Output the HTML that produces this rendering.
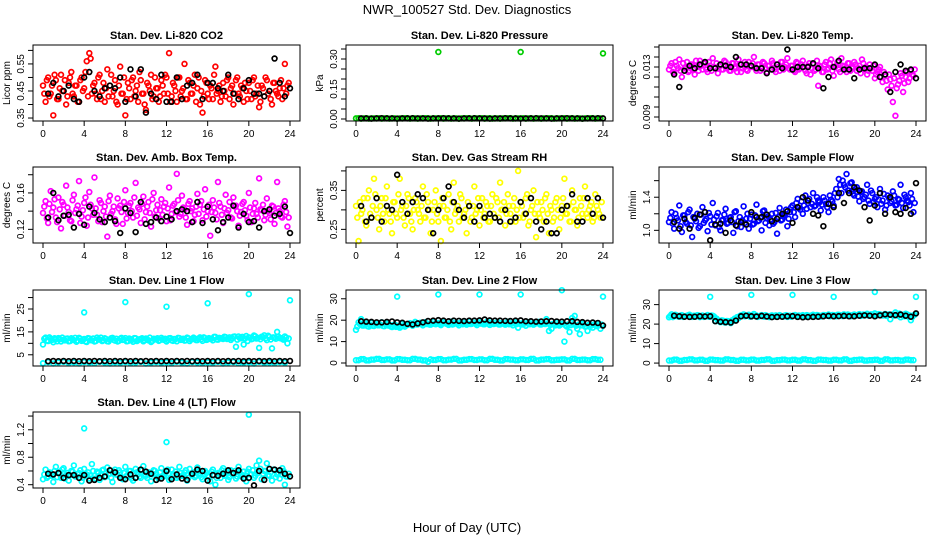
<!DOCTYPE html>
<html><head><meta charset="utf-8"><style>
html,body{margin:0;padding:0;background:#fff;}
svg{display:block;font-family:"Liberation Sans",Arial,sans-serif;}
</style></head><body>
<svg id="chart" width="936" height="540" viewBox="0 0 936 540" xmlns="http://www.w3.org/2000/svg">
<text x="467" y="14" text-anchor="middle" font-size="13">NWR_100527  Std. Dev. Diagnostics</text>
<text x="467" y="532" text-anchor="middle" font-size="13">Hour of Day (UTC)</text>
<g id="panels"></g>
</svg>
<script>
const xTicks=[0,4,8,12,16,20,24];
const co2=[0.47,0.41,0.50,0.44,0.36,0.49,0.42,0.51,0.45,0.40,0.48,0.52,0.43,0.47,0.41,0.50,0.46,0.56,0.59,0.44,0.48,0.42,0.51,0.45,0.41,0.53,0.47,0.43,0.49,0.40,0.54,0.44,0.36,0.48,0.42,0.50,0.45,0.41,0.49,0.44,0.38,0.47,0.51,0.43,0.46,0.41,0.49,0.44,0.50,0.59,0.43,0.47,0.41,0.50,0.45,0.55,0.42,0.48,0.44,0.51,0.46,0.40,0.37,0.49,0.44,0.47,0.42,0.54,0.45,0.41,0.48,0.43,0.50,0.46,0.40,0.49,0.44,0.47,0.41,0.45,0.48,0.42,0.50,0.44,0.39,0.47,0.43,0.49,0.45,0.40,0.48,0.44,0.46,0.42,0.55,0.47];
const co2B=[0.44,0.49,0.43,0.47,0.51,0.42,0.46,0.45,0.49,0.43,0.50,0.44,0.47,0.41,0.49,0.45,0.52,0.43,0.57,0.47,0.44,0.50,0.42,0.48,0.46,0.43,0.51,0.45,0.41,0.47,0.44,0.50,0.42,0.46,0.49,0.43,0.47,0.52,0.44,0.40,0.48,0.45,0.42,0.50,0.46,0.43,0.47,0.51,0.44,0.41,0.48,0.45,0.50,0.43,0.46,0.42,0.49,0.44,0.47,0.41,0.50,0.45,0.43,0.48,0.42,0.46,0.51,0.44,0.47,0.43,0.45,0.49,0.42,0.47,0.44,0.50,0.43,0.46,0.48,0.42,0.45,0.49,0.43,0.47,0.41,0.46,0.50,0.44,0.42,0.48,0.45,0.43,0.49,0.46,0.44,0.48];
const co2Black=[0.44,0.48,0.43,0.45,0.47,0.42,0.41,0.50,0.52,0.45,0.43,0.46,0.47,0.46,0.50,0.41,0.53,0.43,0.53,0.37,0.44,0.42,0.51,0.41,0.41,0.50,0.42,0.47,0.48,0.51,0.42,0.48,0.48,0.46,0.45,0.51,0.44,0.42,0.46,0.49,0.44,0.44,0.43,0.45,0.57,0.48,0.43,0.46];
const press=[0.003,0.002,0.004,0.003,0.003,0.002,0.004,0.003,0.002,0.003,0.004,0.003,0.002,0.003,0.004,0.003,0.003,0.002,0.004,0.003,0.002,0.003,0.004,0.003,0.003,0.002,0.004,0.003,0.002,0.003,0.004,0.003,0.003,0.002,0.004,0.003,0.002,0.003,0.004,0.003,0.003,0.002,0.004,0.003,0.002,0.003,0.004,0.003];
const pressB=[0.004,0.003,0.002,0.003,0.004,0.003,0.002,0.003,0.003,0.004,0.002,0.003,0.003,0.004,0.002,0.003,0.004,0.003,0.002,0.003,0.003,0.004,0.002,0.003,0.004,0.003,0.002,0.003,0.003,0.004,0.002,0.003,0.004,0.003,0.002,0.003,0.003,0.004,0.002,0.003,0.004,0.003,0.002,0.003,0.003,0.004,0.002,0.003];
const pressBlack=[0.003,0.003,0.002,0.003,0.004,0.003,0.003,0.002,0.003,0.003,0.004,0.003,0.003,0.002,0.003,0.003,0.004,0.003,0.003,0.002,0.003,0.003,0.004,0.003,0.003,0.002,0.003,0.003,0.004,0.003,0.003,0.002,0.003,0.003,0.004,0.003,0.003,0.002,0.003,0.003,0.004,0.003,0.003,0.002,0.003,0.003,0.004,0.003];
const pressSpikeHours=[8,16,24];
const pressSpikeValues=[0.335,0.335,0.328];
const temp=[0.0128,0.0133,0.0125,0.0131,0.0136,0.0122,0.0129,0.0134,0.0127,0.0132,0.0124,0.0130,0.0135,0.0128,0.0133,0.0126,0.0131,0.0137,0.0129,0.0125,0.0132,0.0128,0.0134,0.0130,0.0127,0.0133,0.0129,0.0136,0.0126,0.0131,0.0128,0.0134,0.0130,0.0138,0.0127,0.0132,0.0129,0.0133,0.0126,0.0131,0.0135,0.0128,0.0132,0.0127,0.0134,0.0130,0.0137,0.0128,0.0131,0.0126,0.0133,0.0129,0.0135,0.0127,0.0131,0.0124,0.0132,0.0128,0.0115,0.0130,0.0126,0.0134,0.0129,0.0136,0.0123,0.0131,0.0128,0.0137,0.0130,0.0126,0.0133,0.0129,0.0134,0.0127,0.0131,0.0136,0.0128,0.0124,0.0132,0.0127,0.0121,0.0126,0.0130,0.0118,0.0124,0.0112,0.0120,0.0102,0.0091,0.0116,0.0125,0.0110,0.0122,0.0118,0.0127,0.0123];
const tempB=[0.0131,0.0126,0.0134,0.0129,0.0127,0.0133,0.0130,0.0126,0.0132,0.0128,0.0135,0.0127,0.0131,0.0133,0.0128,0.0134,0.0127,0.0130,0.0133,0.0131,0.0128,0.0135,0.0129,0.0127,0.0133,0.0130,0.0126,0.0132,0.0129,0.0134,0.0127,0.0131,0.0133,0.0129,0.0132,0.0127,0.0134,0.0129,0.0131,0.0128,0.0133,0.0126,0.0130,0.0134,0.0128,0.0132,0.0129,0.0131,0.0127,0.0134,0.0128,0.0132,0.0130,0.0125,0.0133,0.0129,0.0127,0.0135,0.0131,0.0126,0.0132,0.0128,0.0133,0.0127,0.0130,0.0134,0.0126,0.0131,0.0128,0.0133,0.0127,0.0130,0.0132,0.0129,0.0125,0.0133,0.0130,0.0127,0.0129,0.0131,0.0124,0.0128,0.0122,0.0126,0.0119,0.0124,0.0115,0.0121,0.0113,0.0119,0.0123,0.0117,0.0126,0.0121,0.0124,0.0128];
const tempBlack=[0.0124,0.0114,0.0127,0.0131,0.0129,0.0132,0.0134,0.0129,0.0129,0.0132,0.0131,0.0130,0.0138,0.0132,0.0132,0.0131,0.0129,0.0129,0.0125,0.0128,0.0132,0.0129,0.0144,0.0128,0.0130,0.0130,0.0130,0.0133,0.0129,0.0113,0.0122,0.0130,0.0135,0.0128,0.0128,0.0121,0.0128,0.0129,0.0129,0.0132,0.0122,0.0124,0.0110,0.0126,0.0132,0.0127,0.0128,0.0121];
const amb=[0.138,0.151,0.127,0.162,0.144,0.133,0.155,0.121,0.147,0.168,0.139,0.129,0.158,0.142,0.173,0.134,0.149,0.124,0.161,0.143,0.177,0.136,0.152,0.128,0.145,0.112,0.157,0.140,0.131,0.154,0.146,0.126,0.163,0.138,0.149,0.133,0.171,0.144,0.127,0.156,0.139,0.150,0.123,0.160,0.141,0.132,0.153,0.145,0.129,0.166,0.137,0.148,0.181,0.134,0.157,0.142,0.125,0.151,0.143,0.136,0.159,0.147,0.130,0.164,0.140,0.113,0.152,0.138,0.172,0.145,0.127,0.158,0.141,0.133,0.155,0.146,0.124,0.139,0.150,0.135,0.160,0.128,0.143,0.137,0.176,0.141,0.130,0.154,0.138,0.146,0.126,0.172,0.140,0.133,0.151,0.123];
const ambB=[0.145,0.132,0.148,0.139,0.153,0.128,0.142,0.150,0.135,0.144,0.130,0.152,0.138,0.146,0.127,0.141,0.155,0.133,0.147,0.136,0.143,0.129,0.149,0.140,0.134,0.151,0.137,0.145,0.126,0.143,0.139,0.150,0.132,0.146,0.140,0.155,0.135,0.142,0.148,0.131,0.145,0.138,0.153,0.134,0.147,0.141,0.136,0.149,0.143,0.130,0.146,0.139,0.152,0.137,0.144,0.133,0.148,0.140,0.129,0.145,0.137,0.151,0.142,0.134,0.147,0.139,0.144,0.131,0.149,0.136,0.143,0.138,0.150,0.132,0.145,0.140,0.135,0.148,0.141,0.130,0.144,0.137,0.149,0.133,0.142,0.147,0.136,0.140,0.131,0.145,0.138,0.143,0.134,0.147,0.139,0.133];
const ambBlack=[0.133,0.160,0.130,0.135,0.136,0.122,0.137,0.125,0.145,0.138,0.131,0.128,0.133,0.129,0.116,0.143,0.138,0.117,0.150,0.126,0.128,0.133,0.129,0.134,0.131,0.140,0.142,0.140,0.128,0.150,0.127,0.145,0.131,0.119,0.128,0.133,0.146,0.122,0.137,0.128,0.129,0.122,0.140,0.142,0.135,0.137,0.145,0.116];
const rh=[0.31,0.22,0.29,0.33,0.26,0.35,0.28,0.38,0.30,0.25,0.33,0.27,0.36,0.29,0.24,0.32,0.28,0.38,0.31,0.26,0.34,0.29,0.25,0.33,0.30,0.27,0.36,0.28,0.32,0.24,0.30,0.35,0.27,0.22,0.31,0.28,0.34,0.25,0.37,0.30,0.27,0.33,0.29,0.24,0.31,0.28,0.36,0.30,0.26,0.33,0.29,0.31,0.27,0.34,0.28,0.32,0.37,0.30,0.26,0.34,0.29,0.31,0.27,0.40,0.32,0.28,0.33,0.26,0.30,0.35,0.23,0.29,0.32,0.27,0.34,0.24,0.30,0.28,0.33,0.25,0.31,0.38,0.29,0.27,0.35,0.30,0.26,0.33,0.29,0.36,0.28,0.31,0.27,0.34,0.30,0.28];
const rhB=[0.28,0.32,0.30,0.27,0.33,0.29,0.31,0.34,0.28,0.31,0.29,0.33,0.30,0.27,0.32,0.29,0.34,0.30,0.28,0.31,0.33,0.27,0.30,0.32,0.29,0.31,0.28,0.34,0.30,0.27,0.32,0.29,0.31,0.33,0.28,0.30,0.27,0.32,0.29,0.31,0.34,0.28,0.30,0.32,0.27,0.31,0.29,0.33,0.30,0.28,0.32,0.27,0.31,0.29,0.33,0.28,0.30,0.32,0.29,0.31,0.27,0.33,0.30,0.28,0.31,0.29,0.34,0.27,0.31,0.29,0.32,0.28,0.30,0.33,0.29,0.31,0.27,0.32,0.30,0.28,0.33,0.29,0.31,0.27,0.32,0.30,0.28,0.31,0.33,0.29,0.30,0.32,0.28,0.31,0.29,0.32];
const rhBlack=[0.31,0.27,0.28,0.33,0.27,0.31,0.30,0.39,0.32,0.29,0.32,0.34,0.33,0.30,0.24,0.30,0.33,0.36,0.32,0.30,0.28,0.31,0.27,0.31,0.28,0.29,0.28,0.27,0.30,0.27,0.28,0.32,0.29,0.33,0.27,0.25,0.27,0.24,0.24,0.30,0.31,0.34,0.27,0.27,0.33,0.29,0.33,0.28];
const flow=[1.10,1.22,1.02,1.15,1.30,0.98,1.18,1.08,1.25,0.92,1.14,1.20,1.05,1.28,1.12,0.99,1.17,1.33,1.06,1.21,1.00,1.13,1.26,1.09,1.16,0.97,1.23,1.11,1.04,1.29,1.14,1.02,1.19,1.08,1.31,1.12,1.00,1.24,1.15,1.06,1.20,1.10,0.96,1.27,1.13,1.18,1.05,1.22,1.30,1.16,1.38,1.25,1.20,1.42,1.33,1.28,1.45,1.30,1.36,1.24,1.40,1.32,1.22,1.37,1.30,1.50,1.62,1.45,1.55,1.68,1.48,1.58,1.42,1.52,1.35,1.47,1.40,1.55,1.32,1.45,1.38,1.28,1.50,1.36,1.25,1.42,1.33,1.47,1.30,1.38,1.55,1.27,1.40,1.34,1.45,1.22];
const flowB=[1.15,1.08,1.20,1.12,1.05,1.18,1.10,1.22,1.06,1.16,1.11,1.03,1.19,1.09,1.14,1.21,1.07,1.13,1.17,1.04,1.12,1.19,1.08,1.15,1.10,1.22,1.05,1.16,1.12,1.09,1.20,1.14,1.07,1.18,1.11,1.15,1.23,1.09,1.17,1.13,1.08,1.21,1.16,1.12,1.19,1.25,1.14,1.28,1.22,1.33,1.27,1.35,1.30,1.26,1.38,1.32,1.29,1.40,1.34,1.31,1.36,1.28,1.42,1.35,1.45,1.40,1.55,1.60,1.52,1.48,1.57,1.44,1.50,1.41,1.46,1.38,1.43,1.36,1.48,1.34,1.40,1.37,1.32,1.44,1.30,1.39,1.35,1.42,1.31,1.37,1.33,1.43,1.36,1.30,1.38,1.33];
const flowBlack=[1.10,1.02,1.14,1.02,1.15,1.19,1.22,0.88,1.07,1.08,0.97,1.12,1.06,1.10,1.07,1.22,1.16,1.16,1.19,1.11,1.14,1.20,1.23,1.09,1.28,1.40,1.36,1.20,1.18,1.05,1.32,1.28,1.45,1.33,1.45,1.52,1.48,1.28,1.12,1.30,1.45,1.20,1.40,1.22,1.20,1.27,1.20,1.57];
const line1=[9.5,12.5,11.0,12.0,10.5,11.8,12.3,10.8,11.5,12.0,10.9,12.2,11.4,10.7,12.4,11.1,11.9,10.6,12.1,11.3,10.8,12.5,11.6,11.0,12.2,10.9,11.7,12.4,11.2,10.8,12.0,11.5,12.3,11.0,11.8,10.7,12.2,11.4,11.9,10.9,12.1,11.3,10.6,12.0,11.7,11.1,12.4,11.5,10.8,12.2,11.3,11.9,10.9,12.3,11.6,11.2,12.5,11.0,11.8,12.1,11.4,12.6,11.1,12.3,11.7,12.0,11.3,12.8,11.6,12.2,11.9,12.7,12.0,11.5,12.9,8.5,13.0,12.2,9.5,13.2,12.6,11.8,13.4,12.1,8.0,12.9,13.5,11.4,12.8,7.8,12.5,15.0,12.3,11.9,13.0,10.0];
const line1B=[12.0,11.2,12.6,11.5,12.2,10.9,11.8,12.5,11.3,12.1,11.0,11.7,12.4,11.2,12.0,11.6,10.8,12.3,11.4,12.1,11.0,11.8,12.5,11.3,11.9,10.8,12.2,11.5,12.0,11.1,12.4,11.6,10.9,12.1,11.4,12.3,11.0,11.8,12.2,11.3,11.7,12.5,11.1,11.9,12.2,11.4,11.8,12.0,11.5,12.3,11.1,11.8,12.4,11.5,12.0,11.3,12.2,11.7,12.5,11.4,12.1,11.8,12.6,11.5,12.3,12.0,12.8,11.7,12.4,12.1,12.9,11.9,12.6,12.2,13.0,11.6,12.3,12.8,12.1,11.0,12.5,12.0,13.1,12.4,11.8,12.7,12.2,13.3,11.7,12.6,12.0,12.9,12.3,11.6,12.5,12.1];
const line1Low=[1.3,1.8,1.2,1.6,1.9,1.4,1.7,1.2,1.8,1.5,1.3,1.9,1.6,1.2,1.7,1.4,1.8,1.3,1.6,1.9,1.2,1.5,1.8,1.4,1.7,1.3,1.9,1.5,1.2,1.8,1.6,1.3,1.7,1.4,1.9,1.2,1.6,1.8,1.3,1.5,1.7,1.2,1.9,1.4,1.6,1.3,1.8,1.5];
const line1Black=[2.2,2.3,2.2,2.3,2.2,2.3,2.2,2.3,2.2,2.3,2.2,2.3,2.2,2.3,2.2,2.3,2.2,2.3,2.2,2.3,2.2,2.3,2.2,2.3,2.2,2.3,2.2,2.3,2.2,2.3,2.2,2.3,2.2,2.3,2.2,2.3,2.2,2.3,2.2,2.3,2.2,2.3,2.2,2.3,2.2,2.3,2.2,2.3];
const spikeHours=[4,8,12,16,20,24];
const line1Spikes=[23.5,28,26,27.5,31.5,28.8];
const line2=[15.5,19.0,20.5,17.5,18.5,17.0,18.8,17.3,18.2,17.6,19.0,17.2,18.4,17.8,16.8,18.0,17.1,16.5,18.3,17.0,17.8,18.6,17.4,19.2,18.0,18.8,17.6,19.1,18.3,17.9,19.4,18.1,18.7,17.7,19.0,18.4,17.8,19.3,18.2,18.9,17.6,19.1,18.5,17.9,19.5,18.3,18.8,17.7,19.0,18.6,18.1,19.4,17.8,18.9,18.4,19.2,18.0,18.7,17.9,19.3,18.5,17.6,19.0,16.5,18.2,18.8,17.4,19.1,18.3,17.9,18.7,19.2,18.0,18.6,20.5,15.0,16.0,18.2,19.0,17.5,18.3,10.0,17.0,14.5,21.0,22.0,16.0,13.5,18.5,17.0,15.0,18.0,16.5,17.8,18.3,16.0];
const line2B=[17.0,18.2,17.5,18.0,17.2,17.8,17.4,18.1,17.6,17.9,17.3,18.0,17.5,17.1,17.7,16.9,17.4,17.0,17.6,17.8,18.2,17.9,18.4,18.0,18.5,18.1,18.6,18.2,18.0,18.5,18.3,18.7,18.1,18.4,18.6,18.2,18.5,18.0,18.7,18.3,18.5,18.1,18.8,18.4,18.2,18.6,18.3,18.7,18.4,18.1,18.6,18.3,18.8,18.2,18.5,18.0,18.6,18.3,18.7,18.1,18.4,18.6,18.2,18.5,18.0,18.4,18.6,18.1,18.5,18.3,18.7,18.0,18.4,18.2,18.5,17.8,18.3,17.6,18.1,17.9,18.4,17.5,18.0,17.7,18.2,17.4,17.9,17.6,18.1,17.3,17.8,17.5,18.0,17.2,17.6,17.9];
const line2Low=[1.3,1.8,1.2,1.6,1.9,1.4,1.7,1.2,1.8,1.5,1.3,1.9,1.6,1.2,0.6,1.4,1.8,1.3,1.6,1.9,1.2,1.5,1.8,1.4,1.7,1.3,1.9,1.5,1.2,1.8,1.6,1.3,1.7,1.4,1.9,1.2,1.6,1.8,1.3,1.5,1.7,1.2,1.9,1.4,1.6,1.3,1.8,1.5];
const line2Black=[19.5,19.3,19.2,19.0,19.0,19.2,19.4,19.0,18.8,18.3,18.0,18.5,19.0,19.6,19.8,20.0,19.8,19.5,19.8,19.7,19.6,19.8,19.8,19.9,20.3,19.9,19.8,19.8,19.7,19.6,19.8,19.9,19.5,19.5,19.3,19.4,19.5,19.6,19.4,19.3,19.5,19.5,19.2,19.1,18.8,18.9,18.7,17.5];
const line3=[23.5,25.0,24.0,24.5,23.8,24.6,23.9,24.3,24.8,23.7,24.2,24.6,23.6,24.4,24.1,24.7,23.8,24.3,21.5,22.0,21.0,21.8,20.8,21.5,20.5,21.7,22.5,23.0,24.5,25.0,24.2,24.8,23.9,25.2,24.4,24.0,24.6,23.8,24.3,23.6,24.5,24.1,23.8,24.6,24.0,24.4,23.7,24.3,24.1,24.7,23.9,24.2,24.6,23.8,24.4,24.0,24.8,24.1,24.5,23.9,24.7,24.3,24.9,24.2,24.6,24.0,24.8,24.4,25.0,24.3,24.7,24.1,24.9,24.5,25.1,24.4,24.8,25.3,24.6,24.9,25.5,24.7,25.0,24.4,25.2,24.6,22.5,25.0,26.0,24.3,23.5,24.8,25.3,23.8,22.0,24.5];
const line3B=[24.2,23.6,24.8,23.9,24.4,23.7,24.1,24.6,23.8,24.3,23.9,24.5,24.0,23.7,24.2,23.8,24.4,23.9,22.8,21.4,21.9,20.9,21.6,21.2,21.9,22.8,23.6,24.1,24.6,24.0,24.4,23.8,24.5,24.1,23.7,24.3,24.0,24.6,23.9,24.2,23.8,24.5,24.0,24.3,23.9,24.6,24.2,23.8,24.5,24.0,24.4,24.1,23.9,24.6,24.2,24.5,24.0,24.7,24.3,24.1,24.6,24.4,24.0,24.7,24.3,24.8,24.5,24.1,24.6,24.9,24.3,24.7,24.4,24.8,24.2,24.9,24.6,24.4,25.0,24.5,24.3,25.1,24.6,24.8,24.2,25.0,24.7,24.4,24.9,25.4,24.6,24.0,25.0,24.4,23.6,24.8];
const line3Low=[1.3,1.8,1.2,1.6,1.9,1.4,1.7,1.2,1.8,1.5,1.3,1.9,1.6,1.2,1.7,1.4,1.8,1.3,1.6,1.9,1.2,1.5,1.8,1.4,1.7,1.3,1.9,1.5,1.2,1.8,1.6,1.3,1.7,1.4,1.9,1.2,1.6,1.8,1.3,1.5,1.7,1.2,1.9,1.4,1.6,1.3,1.8,1.5];
const line3Black=[24.3,24.0,23.8,23.7,23.8,24.0,23.9,24.0,21.5,21.2,21.0,20.8,21.8,24.0,24.3,24.0,23.9,24.2,23.9,23.6,23.7,23.8,24.0,24.1,23.7,23.5,23.6,23.7,23.8,24.0,24.2,24.0,24.1,24.2,24.0,24.0,24.3,24.5,24.3,24.0,24.5,25.0,24.8,24.6,24.9,24.3,23.8,25.5];
const line3Spikes=[34,35,35,34,36.5,34];
const line2Spikes=[31,32,32,32,34,31];
const line4=[0.48,0.62,0.52,0.56,0.44,0.66,0.58,0.50,0.64,0.54,0.46,0.60,0.68,0.52,0.57,0.45,0.63,0.55,0.49,0.70,0.53,0.59,0.47,0.61,0.51,0.65,0.56,0.44,0.62,0.54,0.58,0.48,0.66,0.52,0.60,0.46,0.63,0.55,0.50,0.67,0.53,0.58,0.45,0.61,0.56,0.49,0.64,0.52,0.59,0.47,0.62,0.55,0.50,0.66,0.53,0.58,0.46,0.63,0.54,0.51,0.65,0.56,0.48,0.60,0.53,0.45,0.62,0.40,0.57,0.50,0.64,0.54,0.47,0.61,0.56,0.49,0.66,0.52,0.59,0.45,0.63,0.55,0.50,0.68,0.75,0.48,0.60,0.71,0.53,0.46,0.62,0.55,0.49,0.64,0.40,0.52];
const line4B=[0.55,0.50,0.58,0.53,0.60,0.51,0.56,0.62,0.49,0.57,0.54,0.59,0.52,0.56,0.61,0.50,0.55,0.58,0.53,0.60,0.49,0.57,0.54,0.62,0.52,0.56,0.50,0.59,0.55,0.61,0.51,0.57,0.53,0.60,0.49,0.56,0.58,0.52,0.61,0.54,0.50,0.57,0.55,0.60,0.51,0.58,0.53,0.56,0.62,0.50,0.55,0.59,0.52,0.57,0.54,0.61,0.50,0.56,0.58,0.53,0.60,0.51,0.55,0.57,0.52,0.59,0.54,0.50,0.56,0.61,0.53,0.58,0.51,0.55,0.60,0.52,0.57,0.54,0.50,0.59,0.55,0.61,0.53,0.57,0.63,0.56,0.60,0.54,0.58,0.62,0.51,0.57,0.55,0.60,0.52,0.56];
const line4Black=[0.56,0.55,0.57,0.50,0.54,0.54,0.50,0.54,0.46,0.47,0.50,0.52,0.61,0.58,0.50,0.48,0.55,0.50,0.62,0.59,0.56,0.47,0.49,0.60,0.48,0.55,0.49,0.47,0.56,0.62,0.60,0.46,0.54,0.53,0.56,0.61,0.57,0.61,0.49,0.50,0.39,0.60,0.47,0.63,0.62,0.61,0.56,0.52];
const line4Spikes=[1.22,1.02,1.42];
const line4SpikeHours=[4,12,20];

const NS="http://www.w3.org/2000/svg";
const root=document.getElementById('panels');
function mk(tag,attrs,parent){const e=document.createElementNS(NS,tag);for(const k in attrs)e.setAttribute(k,attrs[k]);parent.appendChild(e);return e;}
const colLeft=[33,346,659], rowTop=[45,167,290,412], W=267, H=76;
function panel(p){
  const L=colLeft[p.col], T=rowTop[p.row];
  const g=mk('g',{},root);
  
  
  const xs=h=>L+10+h*(W-20)/24;
  const ys=v=>T+H-(v-p.dom[0])/(p.dom[1]-p.dom[0])*H;
  const t=mk('text',{x:L+W/2,y:T-6,'text-anchor':'middle','font-size':'11','font-weight':'bold'},g);
  t.textContent=p.title;
  
  
  const yl=mk('text',{x:0,y:0,'text-anchor':'middle','font-size':'10',transform:`translate(${L-23},${T+H/2}) rotate(-90)`},g);
  yl.textContent=p.ylab;
  
  
  const series=(hrs,vals,color)=>{vals.forEach((v,i)=>{
    const c=mk('circle',{cx:xs(hrs(i,vals.length)),cy:ys(v),r:2.4,fill:'none',stroke:color,'stroke-width':1.7},g);
    
    
  });};
  const even=(i,n)=>i*24/n;
  const offs=(i,n)=>(i+0.5)*24/n;
  const half=(i,n)=>(i+1)*24/n;
  if(p.low) series(even,p.low,p.color);
  if(p.lowB) series(offs,p.lowB,p.color);
  series(even,p.data,p.color);
  if(p.dataB) series(offs,p.dataB,p.color);
  if(p.spikes) series((i)=>p.spikeHours[i],p.spikes,p.color);
  series(half,p.black,'#000');
  const b=mk('rect',{x:L,y:T,width:W,height:H,fill:'none',stroke:'#000','stroke-width':1},g);
  
  
  const ax=mk('line',{x1:xs(0),x2:xs(24),y1:T+H,y2:T+H,stroke:'#000'},g);
  
  
  xTicks.forEach(h=>{
    mk('line',{x1:xs(h),x2:xs(h),y1:T+H,y2:T+H+5,stroke:'#000'},g);
    const tl=mk('text',{x:xs(h),y:T+H+16,'text-anchor':'middle','font-size':'10'},g);
    tl.textContent=h;
    
    
  });
  const ay=mk('line',{x1:L,x2:L,y1:ys(p.ticks[0]),y2:ys(p.ticks[p.ticks.length-1]),stroke:'#000'},g);
  
  
  p.ticks.forEach(v=>{mk('line',{x1:L-5,x2:L,y1:ys(v),y2:ys(v),stroke:'#000'},g);});
  p.labels.forEach((v,i)=>{
    const tl=mk('text',{x:0,y:0,'text-anchor':'middle','font-size':'10',transform:`translate(${L-9},${ys(v)}) rotate(-90)`},g);
    tl.textContent=p.labelText[i];
    
    
  });
}
panel({name:'co2',col:0,row:0,title:'Stan. Dev. Li-820 CO2',ylab:'Licor ppm',color:'#ff0000',data:co2,dataB:co2B,black:co2Black,dom:[0.339,0.62],ticks:[0.35,0.40,0.45,0.50,0.55,0.60],labels:[0.35,0.45,0.55],labelText:['0.35','0.45','0.55']});
panel({name:'pressure',col:1,row:0,title:'Stan. Dev. Li-820 Pressure',ylab:'kPa',color:'#00cc00',data:press,dataB:pressB,black:pressBlack,spikes:pressSpikeValues,spikeHours:pressSpikeHours,dom:[-0.01,0.37],ticks:[0,0.05,0.10,0.15,0.20,0.25,0.30,0.35],labels:[0,0.15,0.30],labelText:['0.00','0.15','0.30']});
panel({name:'li820-temp',col:2,row:0,title:'Stan. Dev. Li-820 Temp.',ylab:'degrees C',color:'#ff00ff',data:temp,dataB:tempB,black:tempBlack,dom:[0.00868,0.01476],ticks:[0.0090,0.0098,0.0106,0.0114,0.0122,0.0130,0.0138,0.0146],labels:[0.009,0.013],labelText:['0.009','0.013']});
panel({name:'amb-box-temp',col:0,row:1,title:'Stan. Dev. Amb. Box Temp.',ylab:'degrees C',color:'#ff00ff',data:amb,dataB:ambB,black:ambBlack,dom:[0.105,0.1885],ticks:[0.12,0.14,0.16,0.18],labels:[0.12,0.16],labelText:['0.12','0.16']});
panel({name:'gas-stream-rh',col:1,row:1,title:'Stan. Dev. Gas Stream RH',ylab:'percent',color:'#ffff00',data:rh,dataB:rhB,black:rhBlack,dom:[0.215,0.41],ticks:[0.25,0.30,0.35,0.40],labels:[0.25,0.35],labelText:['0.25','0.35']});
panel({name:'sample-flow',col:2,row:1,title:'Stan. Dev. Sample Flow',ylab:'ml/min',color:'#0000ff',data:flow,dataB:flowB,black:flowBlack,dom:[0.847,1.765],ticks:[1.0,1.2,1.4,1.6],labels:[1.0,1.4],labelText:['1.0','1.4']});
panel({name:'line1-flow',col:0,row:2,title:'Stan. Dev. Line 1 Flow',ylab:'ml/min',color:'#00ffff',data:line1,dataB:line1B,low:line1Low,black:line1Black,spikes:line1Spikes,spikeHours:spikeHours,dom:[0.1,33.3],ticks:[5,10,15,20,25,30],labels:[5,15,25],labelText:['5','15','25']});
panel({name:'line2-flow',col:1,row:2,title:'Stan. Dev. Line 2 Flow',ylab:'ml/min',color:'#00ffff',data:line2,dataB:line2B,low:line2Low,lowB:line1Low,black:line2Black,spikes:line2Spikes,spikeHours:spikeHours,dom:[-1.4,34.1],ticks:[0,10,20,30],labels:[0,10,20,30],labelText:['0','10','20','30']});
panel({name:'line3-flow',col:2,row:2,title:'Stan. Dev. Line 3 Flow',ylab:'ml/min',color:'#00ffff',data:line3,dataB:line3B,low:line3Low,lowB:line1Low,black:line3Black,spikes:line3Spikes,spikeHours:spikeHours,dom:[-1.5,37.5],ticks:[0,10,20,30],labels:[0,10,20,30],labelText:['0','10','20','30']});
panel({name:'line4-flow',col:0,row:3,title:'Stan. Dev. Line 4 (LT) Flow',ylab:'ml/min',color:'#00ffff',data:line4,dataB:line4B,black:line4Black,spikes:line4Spikes,spikeHours:line4SpikeHours,dom:[0.352,1.459],ticks:[0.4,0.6,0.8,1.0,1.2,1.4],labels:[0.4,0.8,1.2],labelText:['0.4','0.8','1.2']});
</script>
</body></html>
